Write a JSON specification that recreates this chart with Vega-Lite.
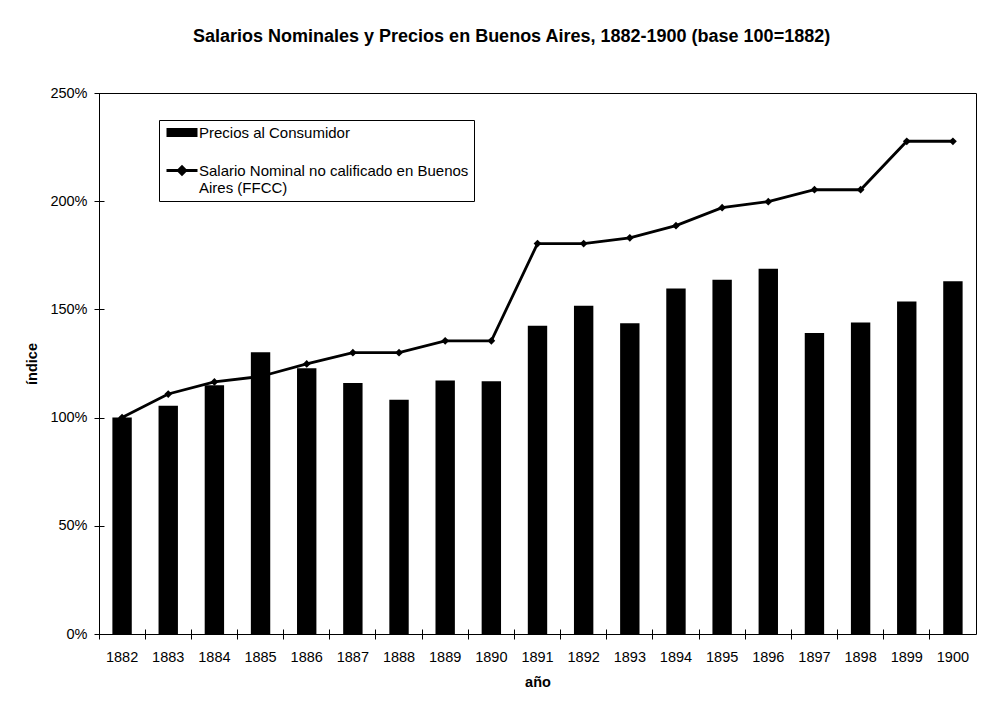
{
  "$schema": "https://vega.github.io/schema/vega-lite/v6.json",
  "width": 877,
  "height": 541,
  "autosize": {"type": "none"},
  "padding": {"left": 99, "top": 93, "right": 31, "bottom": 70},
  "background": "white",
  "title": {
    "text": "Salarios Nominales y Precios en Buenos Aires, 1882-1900 (base 100=1882)",
    "font": "Liberation Sans",
    "fontSize": 18,
    "fontWeight": "bold",
    "color": "#000",
    "anchor": "start",
    "frame": "group",
    "dx": 94,
    "offset": 25,
    "baseline": "alphabetic"
  },
  "data": {
    "values": [
      {"year": "1882", "serie": "Precios al Consumidor", "value": 100},
      {"year": "1883", "serie": "Precios al Consumidor", "value": 105.5},
      {"year": "1884", "serie": "Precios al Consumidor", "value": 114.9},
      {"year": "1885", "serie": "Precios al Consumidor", "value": 130.2},
      {"year": "1886", "serie": "Precios al Consumidor", "value": 122.8},
      {"year": "1887", "serie": "Precios al Consumidor", "value": 116},
      {"year": "1888", "serie": "Precios al Consumidor", "value": 108.3},
      {"year": "1889", "serie": "Precios al Consumidor", "value": 117.2},
      {"year": "1890", "serie": "Precios al Consumidor", "value": 116.8},
      {"year": "1891", "serie": "Precios al Consumidor", "value": 142.5},
      {"year": "1892", "serie": "Precios al Consumidor", "value": 151.7},
      {"year": "1893", "serie": "Precios al Consumidor", "value": 143.6},
      {"year": "1894", "serie": "Precios al Consumidor", "value": 159.7},
      {"year": "1895", "serie": "Precios al Consumidor", "value": 163.7},
      {"year": "1896", "serie": "Precios al Consumidor", "value": 168.8},
      {"year": "1897", "serie": "Precios al Consumidor", "value": 139.1},
      {"year": "1898", "serie": "Precios al Consumidor", "value": 143.9},
      {"year": "1899", "serie": "Precios al Consumidor", "value": 153.7},
      {"year": "1900", "serie": "Precios al Consumidor", "value": 163},
      {"year": "1882", "serie": "Salario Nominal", "value": 100},
      {"year": "1883", "serie": "Salario Nominal", "value": 110.9},
      {"year": "1884", "serie": "Salario Nominal", "value": 116.5},
      {"year": "1885", "serie": "Salario Nominal", "value": 119},
      {"year": "1886", "serie": "Salario Nominal", "value": 124.8},
      {"year": "1887", "serie": "Salario Nominal", "value": 130},
      {"year": "1888", "serie": "Salario Nominal", "value": 130},
      {"year": "1889", "serie": "Salario Nominal", "value": 135.5},
      {"year": "1890", "serie": "Salario Nominal", "value": 135.5},
      {"year": "1891", "serie": "Salario Nominal", "value": 180.4},
      {"year": "1892", "serie": "Salario Nominal", "value": 180.4},
      {"year": "1893", "serie": "Salario Nominal", "value": 183.1},
      {"year": "1894", "serie": "Salario Nominal", "value": 188.7},
      {"year": "1895", "serie": "Salario Nominal", "value": 197},
      {"year": "1896", "serie": "Salario Nominal", "value": 199.8},
      {"year": "1897", "serie": "Salario Nominal", "value": 205.3},
      {"year": "1898", "serie": "Salario Nominal", "value": 205.3},
      {"year": "1899", "serie": "Salario Nominal", "value": 227.7},
      {"year": "1900", "serie": "Salario Nominal", "value": 227.7}
    ]
  },
  "encoding": {
    "x": {
      "field": "year",
      "type": "ordinal",
      "scale": {"paddingInner": 0, "paddingOuter": 0},
      "axis": {
        "title": "año",
        "labelAngle": 0,
        "bandPosition": 0,
        "tickSize": 10,
        "offset": -5,
        "domain": false,
        "grid": false,
        "labelPadding": 11,
        "labelFont": "Liberation Sans",
        "labelFontSize": 14.5,
        "labelColor": "#000",
        "tickColor": "#000",
        "titleFont": "Liberation Sans",
        "titleFontSize": 14.5,
        "titleFontWeight": "bold",
        "titleColor": "#000",
        "titlePadding": 12
      }
    },
    "y": {
      "field": "value",
      "type": "quantitative",
      "scale": {"domain": [0, 250], "nice": false},
      "axis": {
        "title": "índice",
        "values": [0, 50, 100, 150, 200, 250],
        "labelExpr": "datum.value + '%'",
        "tickSize": 10,
        "offset": -5,
        "domain": false,
        "grid": false,
        "labelPadding": 7,
        "labelFont": "Liberation Sans",
        "labelFontSize": 14.5,
        "labelColor": "#000",
        "tickColor": "#000",
        "titleFont": "Liberation Sans",
        "titleFontSize": 14.5,
        "titleFontWeight": "bold",
        "titleColor": "#000",
        "titlePadding": 10
      }
    },
    "color": {
      "field": "serie",
      "type": "nominal",
      "scale": {"domain": ["Precios al Consumidor", "Salario Nominal"], "range": ["#000", "#000"]},
      "legend": {
        "title": null,
        "orient": "none",
        "legendX": 60,
        "legendY": 27,
        "padding": 5,
        "rowPadding": 20,
        "strokeColor": "#000",
        "fillColor": "#fff",
        "symbolSize": 100,
        "labelOffset": 20,
        "labelLimit": 400,
        "labelFont": "Liberation Sans",
        "labelFontSize": 15,
        "labelColor": "#000",
        "labelExpr": "datum.value == 'Precios al Consumidor' ? 'Precios al Consumidor' : ['Salario Nominal no calificado en Buenos', 'Aires (FFCC)']",
        "encode": {
          "symbols": {
            "update": {
              "shape": {"signal": "datum.value == 'Precios al Consumidor' ? 'M-1,-0.9H5.2V0.9H-1Z' : 'M-1,0H5.2M2.1,-0.75L2.85,0L2.1,0.75L1.35,0Z'"},
              "fill": {"value": "#000"},
              "stroke": {"value": "#000"},
              "strokeWidth": {"signal": "datum.value == 'Precios al Consumidor' ? 0 : 2.8"},
              "opacity": {"value": 1}
            }
          },
          "labels": {
            "update": {"lineHeight": {"value": 17.4}}
          }
        }
      }
    }
  },
  "layer": [
    {
      "transform": [{"filter": "datum.serie == 'Precios al Consumidor'"}],
      "mark": {"type": "bar", "width": {"band": 0.42}, "opacity": 1}
    },
    {
      "transform": [{"filter": "datum.serie == 'Salario Nominal'"}],
      "mark": {
        "type": "line",
        "strokeWidth": 2.8,
        "point": {"filled": true, "shape": "diamond", "size": 60, "opacity": 1}
      }
    }
  ],
  "config": {
    "view": {"stroke": "#000", "strokeWidth": 1}
  }
}
